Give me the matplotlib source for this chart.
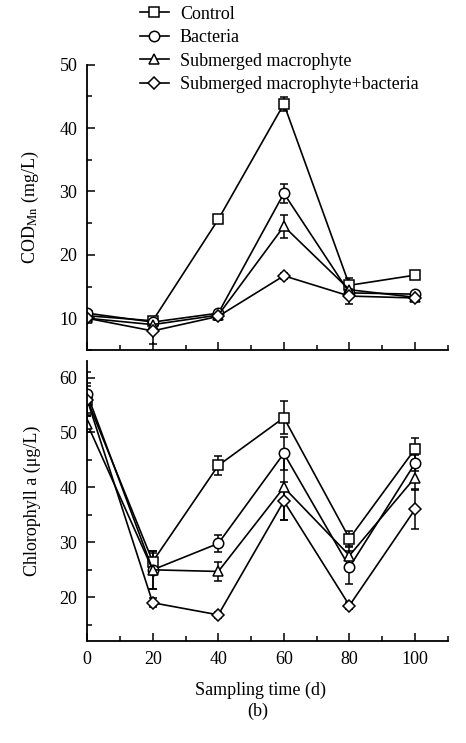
import numpy as np
import matplotlib
matplotlib.use("Agg")
import matplotlib.pyplot as plt
from matplotlib.ticker import MultipleLocator

plt.rcParams['font.family'] = ['Liberation Serif', 'DejaVu Serif']
plt.rcParams['mathtext.fontset'] = 'stix'

days = [0, 20, 40, 60, 80, 100]
labels = ['Control', 'Bacteria', 'Submerged macrophyte', 'Submerged macrophyte+bacteria']
markers = ['s', 'o', '^', 'D']

# COD_Mn (mg/L)
cod_control = [10.4, 9.6, 25.6, 43.8, 15.2, 16.8]
cod_bact = [10.8, 9.4, 10.8, 29.7, 14.0, 13.8]
cod_sm = [10.0, 9.0, 10.5, 24.5, 14.5, 13.3]
cod_smb = [10.0, 8.0, 10.3, 16.7, 13.5, 13.2]
cod_control_err = [0.4, 0.5, 0.4, 1.1, 1.2, 0.5]
cod_bact_err = [0.4, 0.6, 0.4, 1.5, 0.6, 0.4]
cod_sm_err = [0.4, 0.6, 0.4, 1.8, 0.8, 0.4]
cod_smb_err = [0.4, 2.0, 0.5, 0.5, 1.2, 0.4]

# Chlorophyll a (ug/L)
chl_control = [56.0, 26.5, 44.0, 52.7, 30.7, 47.0]
chl_bact = [57.0, 25.0, 29.8, 46.2, 25.5, 44.4]
chl_sm = [51.6, 25.0, 24.7, 40.0, 27.6, 41.8]
chl_smb = [56.0, 19.0, 16.8, 37.5, 18.5, 36.0]
chl_control_err = [3.0, 1.5, 1.8, 3.0, 1.3, 2.0]
chl_bact_err = [4.0, 3.5, 1.5, 3.0, 3.0, 1.5]
chl_sm_err = [1.5, 3.5, 1.8, 6.0, 1.5, 2.0]
chl_smb_err = [2.5, 0.8, 0.5, 3.5, 0.6, 3.5]

cod = [cod_control, cod_bact, cod_sm, cod_smb]
cod_err = [cod_control_err, cod_bact_err, cod_sm_err, cod_smb_err]
chl = [chl_control, chl_bact, chl_sm, chl_smb]
chl_err = [chl_control_err, chl_bact_err, chl_sm_err, chl_smb_err]

fig = plt.figure(figsize=(4.66, 7.43), dpi=100)
ax1 = fig.add_axes([0.187, 0.529, 0.774, 0.384])
ax2 = fig.add_axes([0.187, 0.137, 0.774, 0.377])

fs = 13
for ax, ys, es in [(ax1, cod, cod_err), (ax2, chl, chl_err)]:
    for i in range(4):
        ms = 6 if markers[i] == 'D' else 7.5
        ax.errorbar(days, ys[i], yerr=es[i], color='k', lw=1.2, marker=markers[i],
                    ms=ms, mfc='white', mec='k', mew=1.1, capsize=3, elinewidth=1.1,
                    capthick=1.1, label=labels[i])
    ax.set_xlim(0, 110)
    ax.spines['top'].set_visible(False)
    ax.spines['right'].set_visible(False)
    ax.spines['left'].set_linewidth(1.3)
    ax.spines['bottom'].set_linewidth(1.3)
    ax.xaxis.set_major_locator(MultipleLocator(20))
    ax.xaxis.set_minor_locator(MultipleLocator(10))
    ax.yaxis.set_major_locator(MultipleLocator(10))
    ax.yaxis.set_minor_locator(MultipleLocator(5))
    ax.tick_params(which='both', direction='in', width=1.1, labelsize=fs, pad=7)
    ax.tick_params(which='major', length=6)
    ax.tick_params(which='minor', length=3.5)

ax1.set_ylim(5, 50)
ax1.tick_params(axis='x', labelbottom=False)
ax2.set_ylim(12, 63)

ax1.set_ylabel('COD$_{\\mathrm{Mn}}$ (mg/L)', fontsize=fs, labelpad=13)
ax2.set_ylabel('Chlorophyll a (\u03bcg/L)', fontsize=fs, labelpad=13)
ax2.set_xlabel('Sampling time (d)', fontsize=fs)
ax2.xaxis.set_label_coords(0.482, -0.145)
fig.text(0.554, 0.042, '(b)', ha='center', va='center', fontsize=fs)

# legend handles drawn without error bars
leg_handles = [plt.Line2D([], [], color='k', lw=1.2, marker=m,
                          ms=(6 if m == 'D' else 7.5), mfc='white', mec='k', mew=1.1)
               for m in markers]
fig.legend(leg_handles, labels, loc='upper left', bbox_to_anchor=(0.285, 1.002),
           frameon=False, fontsize=fs, handlelength=1.6, handletextpad=0.6,
           labelspacing=0.36, borderaxespad=0)

fig.savefig('out.png', dpi=100)
